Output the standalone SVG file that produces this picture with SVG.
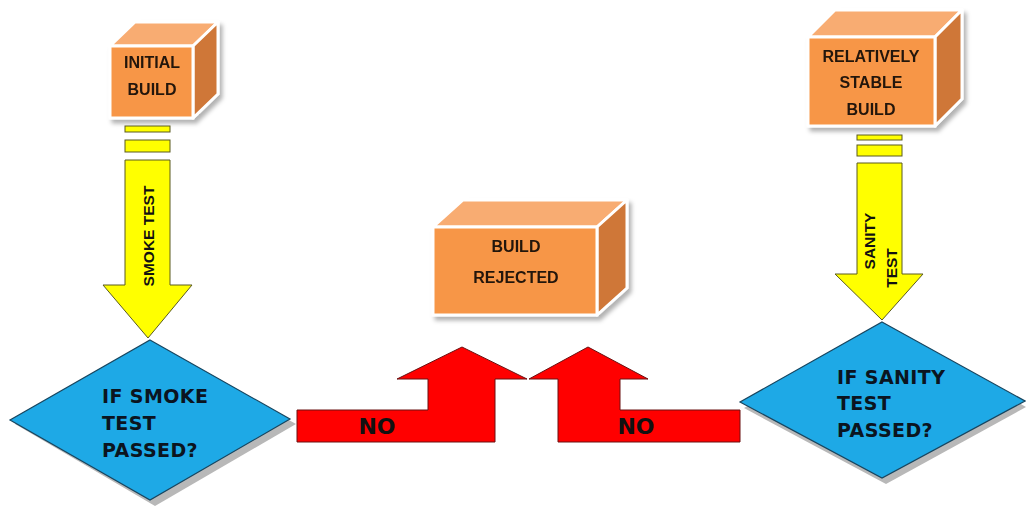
<svg xmlns="http://www.w3.org/2000/svg" width="1026" height="506" viewBox="0 0 1026 506">
<defs>
<filter id="sh" x="-20%" y="-20%" width="140%" height="140%">
<feDropShadow dx="3" dy="4" stdDeviation="2" flood-color="#000" flood-opacity="0.3"/>
</filter>
</defs>
<style>
.front{fill:#F79646;stroke:#fff;stroke-width:3;stroke-linejoin:round}
.top{fill:#F8AC72;stroke:#fff;stroke-width:3;stroke-linejoin:round}
.side{fill:#CF7737;stroke:#fff;stroke-width:3;stroke-linejoin:round}
.ct{font-family:"Liberation Sans",Arial,sans-serif;font-weight:bold;font-size:16px;fill:#24150a;text-anchor:middle}
.yel{fill:#FFFF00;stroke:#5a5a20;stroke-width:1}
.yt{font-family:"Liberation Sans",Arial,sans-serif;font-weight:bold;font-size:15.5px;fill:#111}
.dia{fill:#1EA9E6;stroke:#17455f;stroke-width:1.2}
.dsh{fill:#b8b8b8}
.dt{font-family:"DejaVu Sans",Verdana,sans-serif;font-weight:bold;font-size:19px;letter-spacing:0.4px;fill:#0b1420}
.red{fill:#FF0000;stroke:#6a1010;stroke-width:1}
.no{font-family:"DejaVu Sans",Verdana,sans-serif;font-weight:bold;font-size:22px;fill:#111;text-anchor:middle}
</style>

<g id="initial-build" filter="url(#sh)">
<polygon class="top" points="110,46 135,22 218,22 193,46"/>
<polygon class="side" points="193,46 218,22 218,94 193,118"/>
<rect class="front" x="110" y="46" width="83" height="72"/>
<text class="ct" x="152" y="68">INITIAL</text>
<text class="ct" x="152" y="95">BUILD</text>
</g>

<g id="stable-build" filter="url(#sh)">
<polygon class="top" points="808,37 835,10 962,10 935,37"/>
<polygon class="side" points="935,37 962,10 962,99 935,126"/>
<rect class="front" x="808" y="37" width="127" height="89"/>
<text class="ct" x="871" y="62" font-size="15.5">RELATIVELY</text>
<text class="ct" x="871" y="88">STABLE</text>
<text class="ct" x="871" y="115">BUILD</text>
</g>

<g id="build-rejected" filter="url(#sh)">
<polygon class="top" points="433,227 463,200 627,200 597,227"/>
<polygon class="side" points="597,227 627,200 627,288 597,315"/>
<rect class="front" x="433" y="227" width="164" height="88"/>
<text class="ct" x="516" y="252">BUILD</text>
<text class="ct" x="516" y="283">REJECTED</text>
</g>

<g id="smoke-diamond">
<polygon class="dsh" points="155,345 296,424 155,506 15,424"/>
<polygon class="dia" points="150,340 290,419 150,500 10,420"/>
<text class="dt" x="102" y="403">IF SMOKE</text>
<text class="dt" x="102" y="430">TEST</text>
<text class="dt" x="102" y="457">PASSED?</text>
</g>

<g id="sanity-diamond">
<polygon class="dsh" points="886,328 1026,407 886,484 744,408"/>
<polygon class="dia" points="882,322 1025,401 882,478 740,402"/>
<text class="dt" x="837" y="384">IF SANITY</text>
<text class="dt" x="837" y="410">TEST</text>
<text class="dt" x="837" y="437">PASSED?</text>
</g>

<g id="connectors">
<g id="smoke-test">
<rect class="yel" x="125" y="126" width="45" height="6"/>
<rect class="yel" x="125" y="140" width="45" height="12"/>
<polygon class="yel" points="125,160 170,160 170,285 192,285 148,338 103,285 125,285"/>
<text class="yt" transform="translate(154,236) rotate(-90)" text-anchor="middle" font-size="16">SMOKE TEST</text>
</g>
<g id="sanity-test">
<rect class="yel" x="857" y="135" width="45" height="5"/>
<rect class="yel" x="857" y="145" width="45" height="11"/>
<polygon class="yel" points="857,163 902,163 902,274 923,274 882,320 835,274 857,274"/>
<text class="yt" transform="translate(875,241) rotate(-90)" text-anchor="middle" font-size="16">SANITY</text>
<text class="yt" transform="translate(897,268) rotate(-90)" text-anchor="middle" font-size="16">TEST</text>
</g>
<g id="no-left">
<polygon class="red" points="297,410 428,410 428,379 397,379 462,347 527,379 495,379 495,442 297,442"/>
<text class="no" x="377" y="434">NO</text>
</g>
<g id="no-right">
<polygon class="red" points="740,410 620,410 620,379 648,379 588,347 529,379 558,379 558,442 740,442"/>
<text class="no" x="636" y="434">NO</text>
</g>
</g>
</svg>
